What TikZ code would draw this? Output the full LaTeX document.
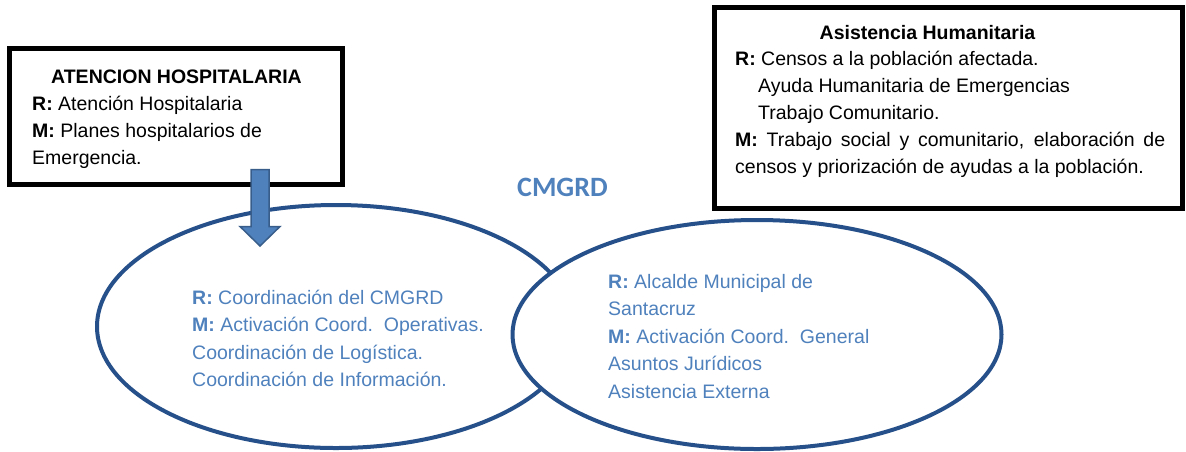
\documentclass[tikz,border=0pt]{standalone}
\usepackage{fontspec}
\setmainfont{Liberation Sans}
\newfontfamily\calibrifont{Carlito}
\usetikzlibrary{shapes.geometric}
\definecolor{ellblue}{RGB}{38,80,138}
\definecolor{txtblue}{RGB}{79,129,189}
\definecolor{arrfill}{RGB}{79,129,189}
\definecolor{arrdraw}{RGB}{56,93,138}
\tikzset{
  boxstyle/.style={draw=black, line width=5pt, inner sep=0pt},
  ellstyle/.style={ellipse, draw=ellblue, line width=4pt, inner sep=0pt},
  txt/.style={anchor=base west, inner sep=0pt, font=\fontsize{19.5}{23}\selectfont},
  ttl/.style={anchor=base, inner sep=0pt, font=\fontsize{19.5}{23}\selectfont\bfseries},
  bluetxt/.style={txt, text=txtblue},
  arrstyle/.style={fill=arrfill, draw=arrdraw, line width=1.5pt, line join=miter}
}
\begin{document}
\begin{tikzpicture}[x=1pt,y=-1pt]
\useasboundingbox (0,0) rectangle (1186,451);
% boxes
\node[boxstyle, minimum width=333pt, minimum height=135.5pt] (hospbox) at (176,116.3) {};
\node[boxstyle, minimum width=468.5pt, minimum height=200.5pt] (asisbox) at (948.25,107.75) {};
% ellipses
\node[ellstyle, minimum width=478pt, minimum height=243pt] (ellL) at (336,326.5) {};
\node[ellstyle, fill=white, minimum width=489pt, minimum height=229pt] (ellR) at (757,334.5) {};
% left box text
\node[ttl] (hosptitle) at (176.5,83) {ATENCION HOSPITALARIA};
\node[txt] (hospR) at (32,110) {{\bfseries R:} Atención Hospitalaria};
\node[txt] (hospM) at (32,137) {{\bfseries M:} Planes hospitalarios de};
\node[txt] (hospM2) at (32,164) {Emergencia.};
% right box text
\node[ttl] (asistitle) at (927.5,39) {Asistencia Humanitaria};
\node[txt] (asisR) at (735,65) {{\bfseries R:} Censos a la población afectada.};
\node[txt] (asisR2) at (758,92) {Ayuda Humanitaria de Emergencias};
\node[txt] (asisR3) at (758,119) {Trabajo Comunitario.};
\node[txt] (asisM) at (735,146) {\makebox[430pt][s]{{\bfseries M:} Trabajo social y comunitario, elaboración de}};
\node[txt] (asisM2) at (735,173) {censos y priorización de ayudas a la población.};
% CMGRD
\node[anchor=base west, inner sep=0pt, text=txtblue, font=\calibrifont\fontsize{28}{30}\selectfont\bfseries] (cmgrd) at (517,196) {CMGRD};
% left ellipse text
\node[bluetxt] (eLR) at (192,304) {{\bfseries R:} Coordinación del CMGRD};
\node[bluetxt] (eLM) at (192,331.5) {{\bfseries M:} Activación Coord.\ \ Operativas.};
\node[bluetxt] (eLM2) at (192,359) {Coordinación de Logística.};
\node[bluetxt] (eLM3) at (192,386.5) {Coordinación de Información.};
% right ellipse text
\node[bluetxt] (eRR) at (608,288.3) {{\bfseries R:} Alcalde Municipal de};
\node[bluetxt] (eRR2) at (608,315.8) {Santacruz};
\node[bluetxt] (eRM) at (608,343.3) {{\bfseries M:} Activación Coord.\ \ General};
\node[bluetxt] (eRM2) at (608,370.8) {Asuntos Jurídicos};
\node[bluetxt] (eRM3) at (608,398.3) {Asistencia Externa};
% arrow
\coordinate (arrS) at (260,169.5);
\coordinate (arrE) at (260,246);
\draw[arrstyle] ([xshift=-9pt]arrS) -- ([xshift=-9pt,yshift=19.5pt]arrE) -- ([xshift=-20pt,yshift=19.5pt]arrE)
  -- (arrE) -- ([xshift=20pt,yshift=19.5pt]arrE) -- ([xshift=9pt,yshift=19.5pt]arrE) -- ([xshift=9pt]arrS) -- cycle;
\end{tikzpicture}
\end{document}
